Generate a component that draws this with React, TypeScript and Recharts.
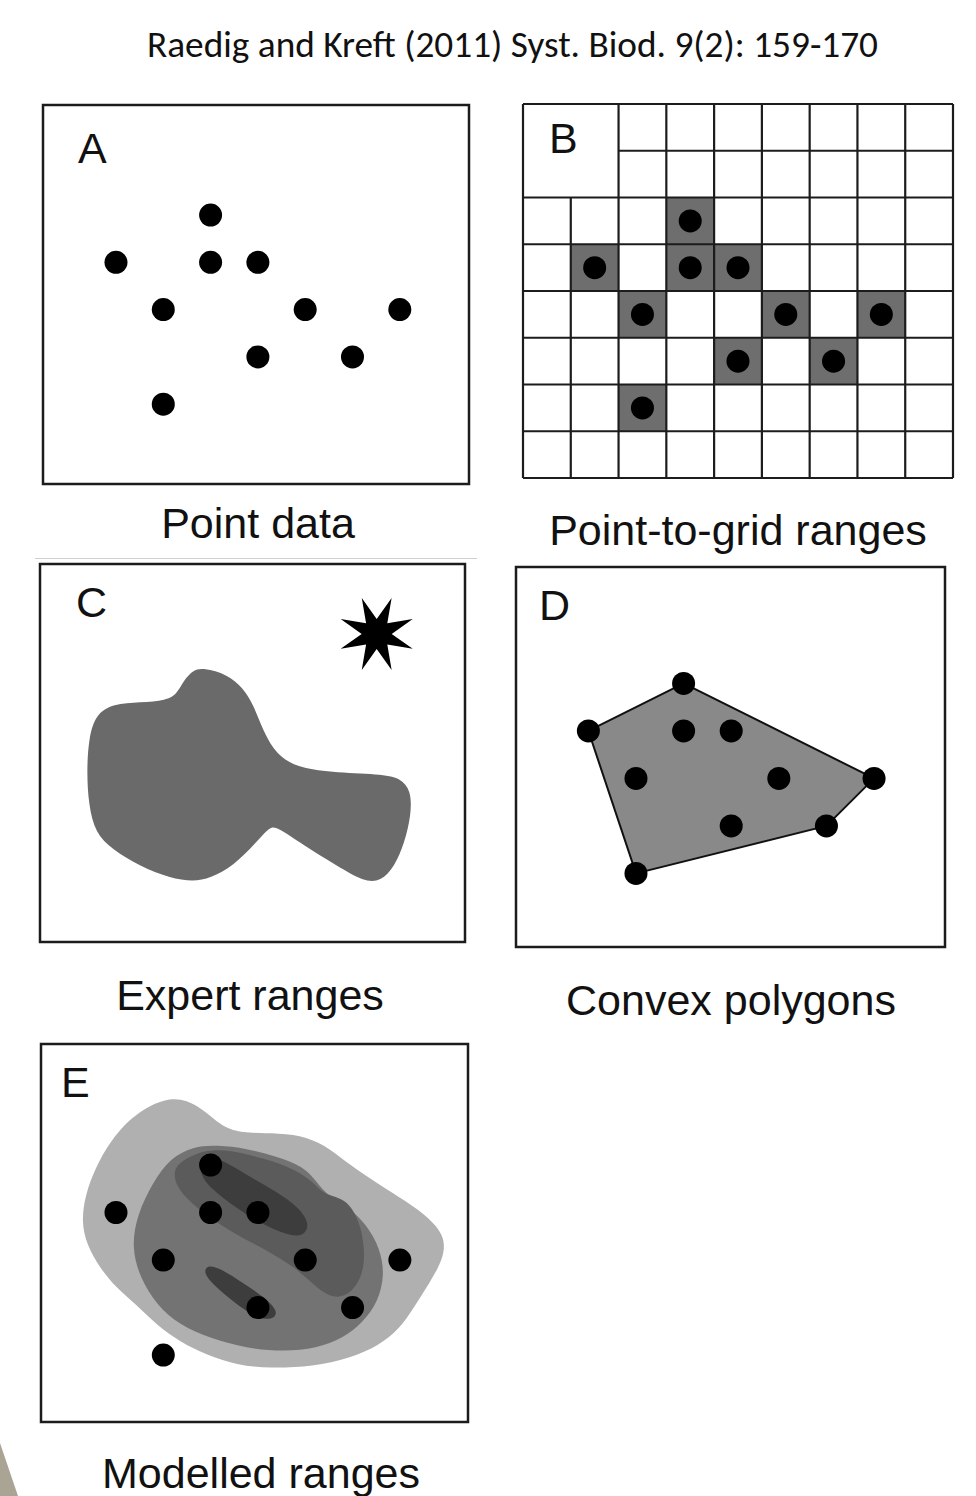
import React from "react";
import {
  ScatterChart,
  Scatter,
  XAxis,
  YAxis,
  ReferenceArea,
  ReferenceLine,
} from "recharts";

const TITLE = "Raedig and Kreft (2011) Syst. Biod. 9(2): 159-170";

// occurrence records, as grid cell (column, row); the same records in every panel
const occCols = [3, 1, 3, 4, 2, 5, 7, 4, 6, 2];
const occRows = [2, 3, 3, 3, 4, 4, 4, 5, 5, 6];

// convex hull of the records (indices into the arrays above), clockwise
const hullIdx = [1, 0, 6, 8, 9];

// point-to-grid raster
const gridCols = [0, 1, 2, 3, 4, 5, 6, 7, 8, 9];
const gridRows = [0, 1, 2, 3, 4, 5, 6, 7, 8];
const labelCellSpan = 2; // the "B" corner covers 2 x 2 cells

// expert range outline (map units = grid cells)
const expertX = [
  3.46, 3.96, 4.31, 4.52, 4.73, 5.01, 5.44, 6.14, 7.2, 7.63, 7.86, 7.86, 7.72,
  7.51, 7.22, 6.85, 6.29, 5.58, 5.01, 4.87, 4.59, 4.1, 3.6, 3.25, 2.75, 2.12,
  1.53, 1.17, 1.03, 0.99, 1.03, 1.18, 1.55, 2.12, 2.68, 2.9, 3.04, 3.25,
];
const expertY = [
  2.2, 2.33, 2.63, 2.98, 3.55, 4.04, 4.3, 4.41, 4.45, 4.52, 4.8, 5.31, 5.9,
  6.4, 6.72, 6.72, 6.39, 5.95, 5.56, 5.56, 5.88, 6.39, 6.65, 6.72, 6.65, 6.4,
  6.04, 5.69, 5.1, 4.4, 3.69, 3.18, 2.96, 2.93, 2.89, 2.75, 2.47, 2.24,
];
// the expert's "star" record outside the range
const starX = [7.13];
const starY = [1.48];

// modelled suitability levels, low to high
const lowX = [
  2.64, 2.99, 3.35, 3.63, 3.91, 4.26, 4.96, 5.53, 6.02, 6.44, 7.08, 7.64, 8.13,
  8.42, 8.45, 8.31, 8.06, 7.78, 7.5, 7.08, 6.44, 5.67, 4.75, 4.05, 3.42, 2.85,
  2.36, 1.94, 1.51, 1.16, 0.88, 0.77, 0.85, 1.06, 1.37, 1.8, 2.22,
];
const lowY = [
  1.09, 1.13, 1.34, 1.59, 1.76, 1.83, 1.83, 1.9, 2.15, 2.5, 2.92, 3.27, 3.62,
  3.97, 4.32, 4.67, 5.09, 5.52, 5.94, 6.29, 6.57, 6.74, 6.78, 6.71, 6.5, 6.22,
  5.87, 5.45, 5.09, 4.67, 4.18, 3.69, 3.13, 2.57, 2.01, 1.52, 1.24,
];
const midX = [
  3.13, 3.63, 4.26, 4.89, 5.46, 5.74, 5.95, 6.44, 6.8, 7.08, 7.18, 7.04, 6.73,
  6.3, 5.74, 5.04, 4.26, 3.49, 2.85, 2.36, 2.01, 1.83, 1.94, 2.29, 2.64,
];
const midY = [
  2.11, 2.08, 2.15, 2.32, 2.53, 2.85, 3.13, 3.41, 3.76, 4.25, 4.81, 5.38, 5.8,
  6.15, 6.36, 6.43, 6.36, 6.15, 5.87, 5.45, 4.88, 4.25, 3.55, 2.85, 2.36,
];
const highX = [
  2.85, 3.35, 3.91, 4.61, 5.25, 5.67, 5.88, 6.37, 6.65, 6.76, 6.73, 6.44, 6.09,
  5.74, 5.32, 4.61, 3.91, 3.2, 2.78, 2.71,
];
const highY = [
  2.43, 2.18, 2.18, 2.36, 2.57, 2.85, 3.13, 3.2, 3.69, 4.25, 4.81, 5.24, 5.31,
  5.09, 4.67, 4.25, 3.9, 3.41, 2.99, 2.64,
];
const peakAX = [3.35, 3.7, 4.26, 4.89, 5.39, 5.6, 5.46, 5.11, 4.61, 4.05, 3.49, 3.24];
const peakAY = [2.32, 2.36, 2.71, 3.06, 3.41, 3.76, 4.01, 3.97, 3.76, 3.41, 2.99, 2.64];
const peakBX = [3.42, 3.7, 4.19, 4.68, 4.93, 4.82, 4.47, 3.98, 3.56, 3.35];
const peakBY = [4.6, 4.67, 4.99, 5.31, 5.59, 5.76, 5.73, 5.38, 5.02, 4.78];

const PAD = 3;
const DOT_R = 11.5;
const INK = "#1c1c1c";

const toPts = (xs: number[], ys: number[]) => xs.map((x, i) => ({ x, y: ys[i] }));
const records = occCols.map((c, i) => ({ x: c + 0.5, y: occRows[i] + 0.5 }));
const hull = hullIdx.map((i) => records[i]);

const Dot = (p: any) => <circle cx={p.cx} cy={p.cy} r={DOT_R} fill="#000" />;
const NoMark = () => <g />;

function Star(p: any) {
  const pts: string[] = [];
  for (let i = 0; i < 16; i++) {
    const r = i % 2 === 0 ? 39 : 15;
    const a = ((22.5 + i * 22.5) * Math.PI) / 180;
    pts.push(`${p.cx + r * Math.sin(a)},${p.cy - r * Math.cos(a)}`);
  }
  return <polygon points={pts.join(" ")} fill="#000" />;
}

function Blob({ xs, ys, color, joint = "basisClosed", stroke = "none" }: any) {
  return (
    <Scatter
      data={toPts(xs, ys)}
      fill={color}
      line={{ fill: color, stroke, strokeWidth: 2 }}
      lineType="joint"
      lineJointType={joint}
      shape={NoMark}
      isAnimationActive={false}
    />
  );
}

interface PanelProps {
  left: number;
  top: number;
  width: number;
  height: number;
  xDomain: [number, number];
  yDomain: [number, number];
  frame?: boolean;
  children?: React.ReactNode;
}

function Panel({ left, top, width, height, xDomain, yDomain, frame = true, children }: PanelProps) {
  return (
    <div style={{ position: "absolute", left: left - PAD, top: top - PAD }}>
      <ScatterChart
        width={width + 2 * PAD}
        height={height + 2 * PAD}
        margin={{ top: PAD, right: PAD, bottom: PAD, left: PAD }}
      >
        <XAxis type="number" dataKey="x" domain={xDomain} hide allowDataOverflow />
        <YAxis type="number" dataKey="y" domain={yDomain} reversed hide allowDataOverflow />
        {children}
        {frame && (
          <ReferenceArea
            x1={xDomain[0]}
            x2={xDomain[1]}
            y1={yDomain[0]}
            y2={yDomain[1]}
            fill="none"
            stroke={INK}
            strokeWidth={2.5}
            ifOverflow="visible"
          />
        )}
      </ScatterChart>
    </div>
  );
}

const sans = "'Liberation Sans', Arial, Helvetica, sans-serif";

function Letter({ text, left, top }: { text: string; left: number; top: number }) {
  return (
    <div style={{ position: "absolute", left, top, fontFamily: sans, fontSize: 43, lineHeight: 1, color: "#111" }}>
      {text}
    </div>
  );
}

function Caption({ text, cx, top }: { text: string; cx: number; top: number }) {
  return (
    <div
      style={{
        position: "absolute",
        left: cx - 250,
        width: 500,
        top,
        textAlign: "center",
        fontFamily: sans,
        fontSize: 43,
        lineHeight: 1,
        color: "#111",
      }}
    >
      {text}
    </div>
  );
}

export default function App() {
  const gridStartRow = (c: number) => (c > 0 && c < labelCellSpan ? labelCellSpan : 0);
  const gridStartCol = (r: number) => (r > 0 && r < labelCellSpan ? labelCellSpan : 0);
  const lastCol = gridCols[gridCols.length - 1];
  const lastRow = gridRows[gridRows.length - 1];

  return (
    <div style={{ position: "absolute", left: 0, top: 0, width: 976, height: 1496, background: "#fff", overflow: "hidden" }}>
      <svg width={976} height={80} style={{ position: "absolute", left: 0, top: 0 }}>
        <text
          x={147}
          y={57}
          fontSize={37}
          textLength={731}
          lengthAdjust="spacingAndGlyphs"
          fontFamily="Carlito, Calibri, Lato, 'Open Sans', sans-serif"
          fill="#111"
        >
          {TITLE}
        </text>
      </svg>

      {/* A: point data */}
      <Panel left={43} top={105} width={426} height={379} xDomain={[-0.043, 8.963]} yDomain={[0.174, 8.187]}>
        <Scatter data={records} shape={Dot} isAnimationActive={false} />
      </Panel>
      <Letter text="A" left={78} top={127} />
      <Caption text="Point data" cx={258} top={502} />

      {/* B: point-to-grid */}
      <Panel left={523} top={104} width={430} height={374} xDomain={[0, 9]} yDomain={[0, 8]} frame={false}>
        {occCols.map((c, i) => (
          <ReferenceArea
            key={`cell-${i}`}
            x1={c}
            x2={c + 1}
            y1={occRows[i]}
            y2={occRows[i] + 1}
            fill="#6e6e6e"
            fillOpacity={1}
            stroke="none"
            ifOverflow="visible"
          />
        ))}
        {gridCols.map((c) => (
          <ReferenceLine
            key={`v-${c}`}
            segment={[
              { x: c, y: gridStartRow(c) },
              { x: c, y: lastRow },
            ]}
            stroke={INK}
            strokeWidth={2.2}
            ifOverflow="visible"
          />
        ))}
        {gridRows.map((r) => (
          <ReferenceLine
            key={`h-${r}`}
            segment={[
              { x: gridStartCol(r), y: r },
              { x: lastCol, y: r },
            ]}
            stroke={INK}
            strokeWidth={2.2}
            ifOverflow="visible"
          />
        ))}
        <Scatter data={records} shape={Dot} isAnimationActive={false} />
      </Panel>
      <Letter text="B" left={549} top={117} />
      <Caption text="Point-to-grid ranges" cx={738} top={509} />

      <div style={{ position: "absolute", left: 35, top: 558, width: 442, height: 1, background: "#d0d0d0" }} />

      {/* C: expert ranges */}
      <Panel left={40} top={564} width={425} height={378} xDomain={[0, 9]} yDomain={[0, 8]}>
        <Blob xs={expertX} ys={expertY} color="#6a6a6a" />
        <Scatter data={toPts(starX, starY)} shape={Star} isAnimationActive={false} />
      </Panel>
      <Letter text="C" left={76} top={581} />
      <Caption text="Expert ranges" cx={250} top={974} />

      {/* D: convex polygons */}
      <Panel left={516} top={567} width={429} height={380} xDomain={[-0.02, 8.99]} yDomain={[0.05, 8.05]}>
        <Blob xs={hull.map((p) => p.x)} ys={hull.map((p) => p.y)} color="#898989" joint="linearClosed" stroke="#111" />
        <Scatter data={records} shape={Dot} isAnimationActive={false} />
      </Panel>
      <Letter text="D" left={539} top={584} />
      <Caption text="Convex polygons" cx={731} top={979} />

      {/* E: modelled ranges */}
      <Panel left={41} top={1044} width={427} height={378} xDomain={[-0.085, 8.94]} yDomain={[-0.047, 7.91]}>
        <Blob xs={lowX} ys={lowY} color="#b0b0b0" />
        <Blob xs={midX} ys={midY} color="#737373" />
        <Blob xs={highX} ys={highY} color="#5b5b5b" />
        <Blob xs={peakAX} ys={peakAY} color="#3d3d3d" />
        <Blob xs={peakBX} ys={peakBY} color="#3d3d3d" />
        <Scatter data={records} shape={Dot} isAnimationActive={false} />
      </Panel>
      <Letter text="E" left={61} top={1061} />
      <Caption text="Modelled ranges" cx={261} top={1452} />

      <div
        style={{
          position: "absolute",
          left: 0,
          top: 1443,
          width: 18,
          height: 53,
          background: "#aaa495",
          clipPath: "polygon(0 0, 100% 100%, 0 100%)",
        }}
      />
    </div>
  );
}
